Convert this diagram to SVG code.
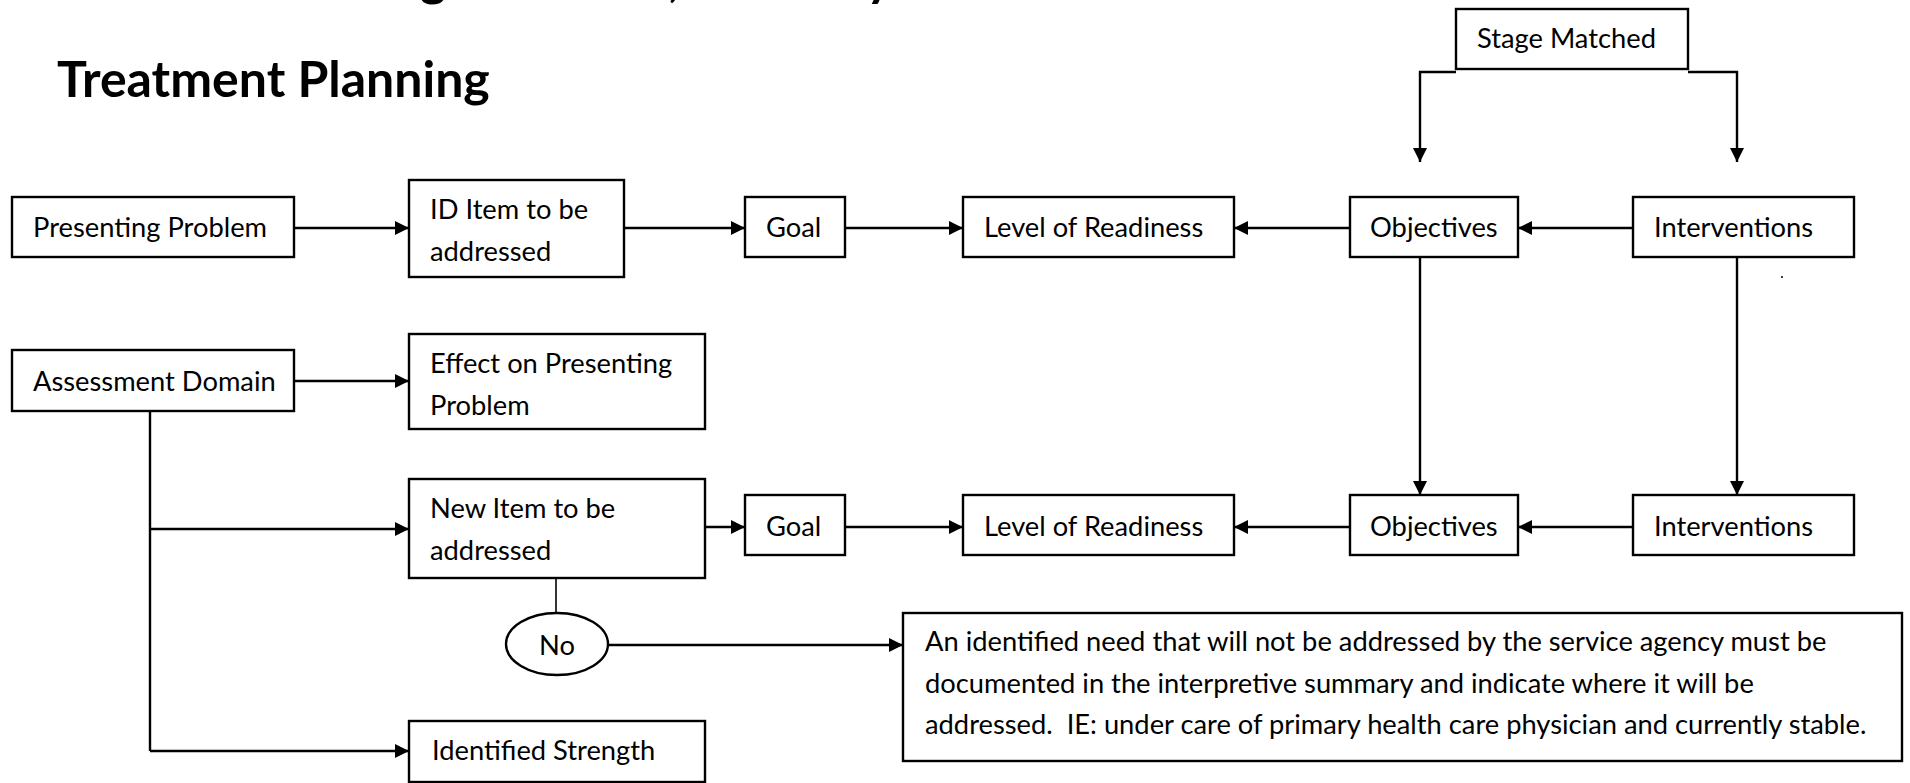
<svg xmlns="http://www.w3.org/2000/svg" width="1910" height="783" viewBox="0 0 1910 783">
<style>
  .box { fill: #fff; stroke: #000; stroke-width: 2.4; }
  .t { font-family: Lato, "Open Sans", "Liberation Sans", sans-serif; font-size: 27.3px; fill: #000; white-space: pre; }
  .h { font-family: Lato, "Open Sans", "Liberation Sans", sans-serif; font-size: 50px; font-weight: bold; fill: #000; }
  .c { fill: none; stroke: #000; stroke-width: 2.4; }
  .ca { fill: none; stroke: #000; stroke-width: 2.4; marker-end: url(#arr); }
</style>
<defs>
  <marker id="arr" markerUnits="userSpaceOnUse" markerWidth="15" markerHeight="14" refX="14" refY="7" orient="auto">
    <path d="M0,0 L14,7 L0,14 z" fill="#000"/>
  </marker>
</defs>
<rect width="1910" height="783" fill="#fff"/>

<g id="heading">
  <text class="h" y="-4"><tspan x="420">g</tspan><tspan x="668">,</tspan><tspan x="866">y</tspan></text>
  <text class="h" x="57" y="97">Treatment Planning</text>
</g>

<g id="connectors">
  <polyline class="ca" points="1456,72 1420,72 1420,162"/>
  <polyline class="ca" points="1688,72 1737,72 1737,162"/>
  <line class="ca" x1="295" y1="228" x2="409" y2="228"/>
  <line class="ca" x1="624" y1="228" x2="745" y2="228"/>
  <line class="ca" x1="845" y1="228" x2="963" y2="228"/>
  <line class="ca" x1="1350" y1="228" x2="1234" y2="228"/>
  <line class="ca" x1="1633" y1="228" x2="1518" y2="228"/>
  <line class="ca" x1="1420" y1="257" x2="1420" y2="495"/>
  <line class="ca" x1="1737" y1="257" x2="1737" y2="495"/>
  <line class="ca" x1="294" y1="381" x2="409" y2="381"/>
  <polyline class="c" points="150,411 150,751"/>
  <line class="ca" x1="150" y1="529" x2="409" y2="529"/>
  <line class="ca" x1="150" y1="751" x2="409" y2="751"/>
  <line class="ca" x1="705" y1="527" x2="745" y2="527"/>
  <line class="ca" x1="845" y1="527" x2="963" y2="527"/>
  <line class="ca" x1="1350" y1="527" x2="1234" y2="527"/>
  <line class="ca" x1="1633" y1="527" x2="1518" y2="527"/>
  <line class="c" x1="556" y1="578" x2="556" y2="613" style="stroke-width:1.6"/>
  <line class="ca" x1="609" y1="645" x2="903" y2="645"/>
  <circle cx="1782" cy="277" r="1" fill="#000"/>
</g>

<g id="stage-matched">
  <rect class="box" x="1456" y="9" width="232" height="60"/>
  <text class="t" x="1477" y="48">Stage Matched</text>
</g>
<g id="presenting-problem">
  <rect class="box" x="12" y="197" width="282" height="60"/>
  <text class="t" x="33" y="237">Presenting Problem</text>
</g>
<g id="id-item">
  <rect class="box" x="409" y="180" width="215" height="97"/>
  <text class="t" x="430" y="219">ID Item to be</text>
  <text class="t" x="430" y="261">addressed</text>
</g>
<g id="goal-1">
  <rect class="box" x="745" y="197" width="100" height="60"/>
  <text class="t" x="766" y="237">Goal</text>
</g>
<g id="readiness-1">
  <rect class="box" x="963" y="197" width="271" height="60"/>
  <text class="t" x="984" y="237">Level of Readiness</text>
</g>
<g id="objectives-1">
  <rect class="box" x="1350" y="197" width="168" height="60"/>
  <text class="t" x="1370" y="237">Objectives</text>
</g>
<g id="interventions-1">
  <rect class="box" x="1633" y="197" width="221" height="60"/>
  <text class="t" x="1654" y="237">Interventions</text>
</g>
<g id="assessment-domain">
  <rect class="box" x="12" y="350" width="282" height="61"/>
  <text class="t" x="33" y="391">Assessment Domain</text>
</g>
<g id="effect">
  <rect class="box" x="409" y="334" width="296" height="95"/>
  <text class="t" x="430" y="373">Effect on Presenting</text>
  <text class="t" x="430" y="415">Problem</text>
</g>
<g id="new-item">
  <rect class="box" x="409" y="479" width="296" height="99"/>
  <text class="t" x="430" y="518">New Item to be</text>
  <text class="t" x="430" y="560">addressed</text>
</g>
<g id="goal-2">
  <rect class="box" x="745" y="495" width="100" height="60"/>
  <text class="t" x="766" y="536">Goal</text>
</g>
<g id="readiness-2">
  <rect class="box" x="963" y="495" width="271" height="60"/>
  <text class="t" x="984" y="536">Level of Readiness</text>
</g>
<g id="objectives-2">
  <rect class="box" x="1350" y="495" width="168" height="60"/>
  <text class="t" x="1370" y="536">Objectives</text>
</g>
<g id="interventions-2">
  <rect class="box" x="1633" y="495" width="221" height="60"/>
  <text class="t" x="1654" y="536">Interventions</text>
</g>
<g id="no">
  <ellipse class="box" cx="557" cy="644" rx="51" ry="31"/>
  <text class="t" x="557" y="655" text-anchor="middle">No</text>
</g>
<g id="note">
  <rect class="box" x="903" y="613" width="999" height="148"/>
  <text class="t" x="925" y="651">An identified need that will not be addressed by the service agency must be</text>
  <text class="t" x="925" y="693">documented in the interpretive summary and indicate where it will be</text>
  <text class="t" x="925" y="734" xml:space="preserve">addressed.  IE: under care of primary health care physician and currently stable.</text>
</g>
<g id="identified-strength">
  <rect class="box" x="409" y="721" width="296" height="61"/>
  <text class="t" x="432" y="760">Identified Strength</text>
</g>
</svg>
